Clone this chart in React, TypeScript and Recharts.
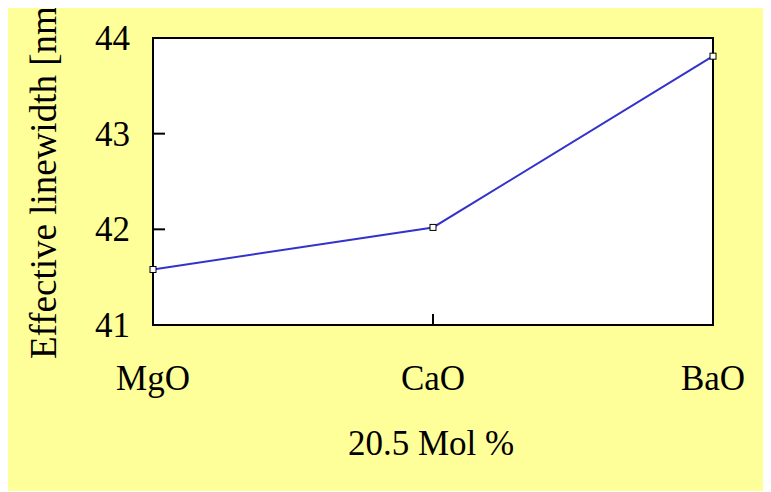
import { LineChart, Line, XAxis, YAxis, ReferenceArea } from 'recharts';

// Oxide additive vs effective linewidth
const oxides = ['MgO', 'CaO', 'BaO'];
const linewidth = [41.58, 42.02, 43.81];
const yTicks = [41, 42, 43, 44];

const data = oxides.map((name, i) => ({ name, lw: linewidth[i] }));

const FONT = '"Liberation Serif", "Times New Roman", serif';
const FS = 35;

const XTick = (props: any) => {
    const { x, y, payload } = props;
    return (
        <g>
            <line x1={x} y1={y} x2={x} y2={y - 11} stroke="#000" strokeWidth={2} />
            <text x={x} y={y + 65} textAnchor="middle" fontFamily={FONT} fontSize={FS} fill="#000">
                {payload.value}
            </text>
        </g>
    );
};

const YTick = (props: any) => {
    const { x, y, payload } = props;
    return (
        <g>
            <line x1={x} y1={y} x2={x + 12} y2={y} stroke="#000" strokeWidth={2} />
            <text x={x - 23} y={y + 12} textAnchor="end" fontFamily={FONT} fontSize={FS} fill="#000">
                {payload.value}
            </text>
        </g>
    );
};

const SquareDot = (props: any) => {
    const { cx, cy } = props;
    if (cx == null || cy == null) return null;
    return <rect x={cx - 3} y={cy - 3} width={6} height={6} fill="#fff" stroke="#000" strokeWidth={1} />;
};

const App = () => {
    return (
        <div style={{ marginTop: -1, width: 757, height: 484, background: '#FFFF99' }}>
            <LineChart width={757} height={484} data={data} margin={{ top: 31, right: 52, left: 0, bottom: 0 }}>
                <ReferenceArea x1="MgO" x2="BaO" y1={41} y2={44} fill="#fff" fillOpacity={1} stroke="#000" strokeWidth={2} ifOverflow="visible" />
                <XAxis
                    dataKey="name"
                    height={166}
                    axisLine={false}
                    tickLine={false}
                    tickSize={0}
                    tickMargin={0}
                    interval={0}
                    tick={<XTick />}
                    label={{ content: () => (
                        <text x={423} y={448} textAnchor="middle" fontFamily={FONT} fontSize={FS} fill="#000">20.5 Mol %</text>
                    ) }}
                />
                <YAxis
                    width={145}
                    domain={[41, 44]}
                    ticks={yTicks}
                    axisLine={false}
                    tickLine={false}
                    tickSize={0}
                    tickMargin={0}
                    tick={<YTick />}
                    label={{ content: () => (
                        <text x={48} y={352} transform="rotate(-90 48 352)" textAnchor="start" fontFamily={FONT} fontSize={37} fill="#000">
                            Effective linewidth [nm]
                        </text>
                    ) }}
                />
                <Line type="linear" dataKey="lw" stroke="#3333CC" strokeWidth={2} dot={<SquareDot />} activeDot={false} isAnimationActive={false} />
            </LineChart>
        </div>
    );
};

export default App;
